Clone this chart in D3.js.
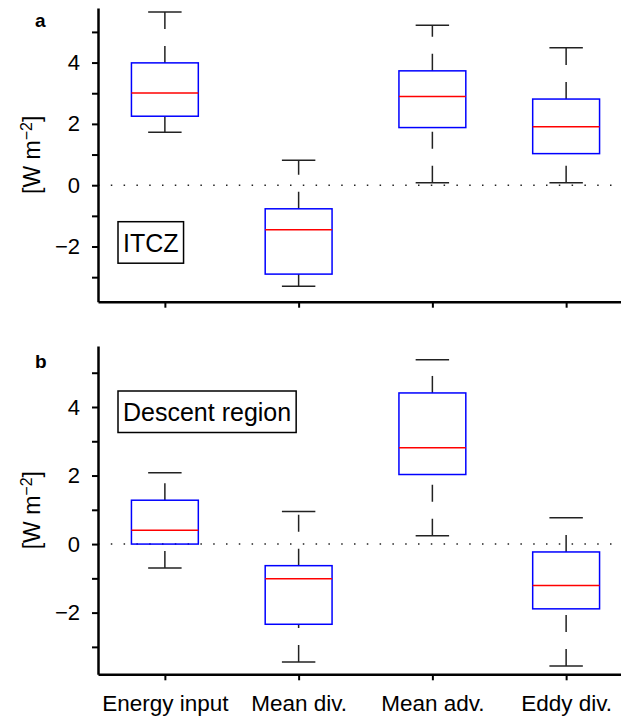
<!DOCTYPE html>
<html>
<head>
<meta charset="utf-8">
<script src="https://cdn.jsdelivr.net/npm/d3@7"></script>
<style>
    body { margin: 0; background: #fff; }
    text { font-family: "Liberation Sans", Arial, Helvetica, sans-serif; fill: #000; }
</style>
</head>
<body>
<div id="chart"></div>
<script>

// categories on the x axis
let categories = ["Energy input", "Mean div.", "Mean adv.", "Eddy div."];

// panel a: ITCZ  (lower whisker, q1, median, q3, upper whisker)
let itczLow    = [1.73, -3.30, 0.08, 0.08];
let itczQ1     = [2.25, -2.90, 1.88, 1.03];
let itczMedian = [3.01, -1.45, 2.89, 1.91];
let itczQ3     = [3.99, -0.77, 3.73, 2.81];
let itczHigh   = [5.65, 0.81, 5.22, 4.48];

// panel b: descent region
let descLow    = [-0.70, -3.44, 0.24, -3.56];
let descQ1     = [0.00, -2.34, 2.03, -1.89];
let descMedian = [0.40, -1.01, 2.81, -1.21];
let descQ3     = [1.28, -0.63, 4.41, -0.23];
let descHigh   = [2.08, 0.95, 5.38, 0.77];

// y ticks
let yTicks = [-3, -2, -1, 0, 1, 2, 3, 4, 5];
let yTickLabels = {"-2": "\u22122", "0": "0", "2": "2", "4": "4"};

let width = 621, height = 722;

let svg = d3.select("#chart").append("svg")
    .attr("width", width)
    .attr("height", height);

// shared x scale
let x = d3.scaleLinear()
    .domain([0.5, 4.5])
    .range([98, 633]);

function makeRows(low, q1, med, q3, high) {
    return categories.map((c, i) => ({
        cat: c, pos: i + 1,
        low: low[i], q1: q1[i], med: med[i], q3: q3[i], high: high[i]
    }));
}

function drawPanel(opts) {
    let g = svg.append("g");

    let y = d3.scaleLinear()
        .domain([-3.8, 5.78])
        .range([opts.bottom, opts.top]);

    // zero line
    g.append("line")
        .attr("x1", x(0.5)).attr("x2", width)
        .attr("y1", y(0)).attr("y2", y(0))
        .attr("stroke", "#222")
        .attr("stroke-width", 1.5)
        .attr("stroke-dasharray", "1.5,11.3");

    let boxW = x(1.25) - x(1);
    let capW = x(1.125) - x(1);

    let boxes = g.selectAll(".box")
        .data(opts.rows)
        .enter()
        .append("g")
        .attr("class", "box");

    // whiskers, drawn from the lower end upward (dash pattern starts there)
    boxes.append("line")
        .attr("x1", d => x(d.pos)).attr("x2", d => x(d.pos))
        .attr("y1", d => y(d.low)).attr("y2", d => y(d.q1))
        .attr("stroke", "#222").attr("stroke-width", 1.5)
        .attr("stroke-dasharray", "17,17");
    boxes.append("line")
        .attr("x1", d => x(d.pos)).attr("x2", d => x(d.pos))
        .attr("y1", d => y(d.q3)).attr("y2", d => y(d.high))
        .attr("stroke", "#222").attr("stroke-width", 1.5)
        .attr("stroke-dasharray", "17,17");

    // caps
    boxes.append("line")
        .attr("x1", d => x(d.pos) - capW).attr("x2", d => x(d.pos) + capW)
        .attr("y1", d => y(d.low)).attr("y2", d => y(d.low))
        .attr("stroke", "#222").attr("stroke-width", 1.5);
    boxes.append("line")
        .attr("x1", d => x(d.pos) - capW).attr("x2", d => x(d.pos) + capW)
        .attr("y1", d => y(d.high)).attr("y2", d => y(d.high))
        .attr("stroke", "#222").attr("stroke-width", 1.5);

    // box
    boxes.append("rect")
        .attr("x", d => x(d.pos) - boxW)
        .attr("width", boxW * 2)
        .attr("y", d => y(d.q3))
        .attr("height", d => y(d.q1) - y(d.q3))
        .attr("fill", "none")
        .attr("stroke", "#0000ff")
        .attr("stroke-width", 1.5);

    // median
    boxes.append("line")
        .attr("x1", d => x(d.pos) - boxW).attr("x2", d => x(d.pos) + boxW)
        .attr("y1", d => y(d.med)).attr("y2", d => y(d.med))
        .attr("stroke", "#ff0000").attr("stroke-width", 1.5);

    // y axis
    let yAxis = g.append("g")
        .attr("transform", `translate(${x(0.5)},0)`)
        .call(d3.axisLeft(y)
            .tickValues(yTicks)
            .tickSize(6)
            .tickSizeOuter(0)
            .tickPadding(12)
            .tickFormat(d => yTickLabels[d] || ""));
    yAxis.select(".domain").attr("stroke", "#000").attr("stroke-width", 2.5);
    yAxis.selectAll(".tick line").attr("stroke", "#000").attr("stroke-width", 2);
    yAxis.selectAll("text")
        .style("font-size", "22px")
        .style("font-family", "'Liberation Sans', Arial, sans-serif")
        .attr("fill", "#000");

    // x axis
    let xAxis = g.append("g")
        .attr("transform", `translate(0,${opts.bottom})`)
        .call(d3.axisBottom(x)
            .tickValues([1, 2, 3, 4])
            .tickSize(6)
            .tickSizeOuter(0)
            .tickPadding(15)
            .tickFormat(d => opts.showLabels ? categories[d - 1] : ""));
    xAxis.select(".domain").attr("stroke", "#000").attr("stroke-width", 2.5);
    xAxis.selectAll(".tick line").attr("stroke", "#000").attr("stroke-width", 2);
    xAxis.selectAll("text")
        .style("font-size", "22.5px")
        .style("font-family", "'Liberation Sans', Arial, sans-serif")
        .attr("fill", "#000");

    // y label
    let mid = (opts.top + opts.bottom) / 2;
    let yl = g.append("text")
        .attr("transform", `translate(40,${mid}) rotate(-90)`)
        .attr("text-anchor", "middle")
        .style("font-size", "23px");
    yl.append("tspan").text("[W m");
    yl.append("tspan").attr("baseline-shift", "super").style("font-size", "16px").text("\u22122");
    yl.append("tspan").text("]");

    // panel letter
    g.append("text")
        .attr("x", 35).attr("y", opts.top + opts.letterDy)
        .style("font-size", "19px")
        .style("font-weight", "bold")
        .text(opts.letter);

    // region label with frame
    let frame = g.append("rect");
    let lt = g.append("text")
        .attr("x", 123)
        .attr("y", opts.top + opts.labelDy)
        .style("font-size", "25px")
        .text(opts.label);
    let tw = lt.node().getComputedTextLength();
    frame
        .attr("x", 118)
        .attr("y", opts.top + opts.labelDy - 30)
        .attr("width", tw + 10)
        .attr("height", 41.5)
        .attr("fill", "#fff")
        .attr("stroke", "#000")
        .attr("stroke-width", 1.5);
}

drawPanel({
    top: 8, bottom: 301.7,
    rows: makeRows(itczLow, itczQ1, itczMedian, itczQ3, itczHigh),
    showLabels: false,
    letter: "a", letterDy: 19,
    label: "ITCZ", labelDy: 243.7
});

drawPanel({
    top: 346, bottom: 674.3,
    rows: makeRows(descLow, descQ1, descMedian, descQ3, descHigh),
    showLabels: true,
    letter: "b", letterDy: 22,
    label: "Descent region", labelDy: 75
});

</script>
</body>
</html>
